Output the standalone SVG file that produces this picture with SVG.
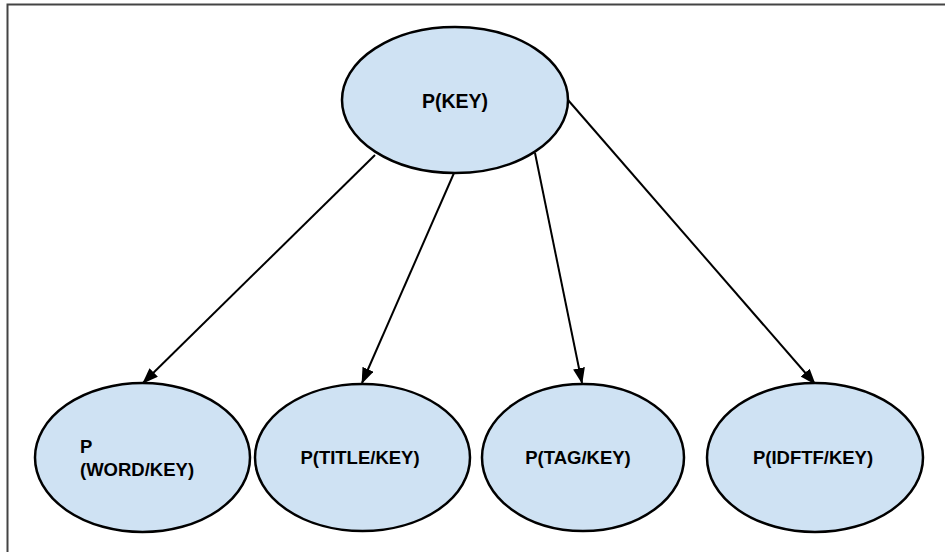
<svg xmlns="http://www.w3.org/2000/svg" width="945" height="552" viewBox="0 0 945 552">
<style>
.node ellipse{fill:#cfe2f3;stroke:#000;stroke-width:2.5}
.node text{font-family:"Liberation Sans",Arial,sans-serif;font-weight:bold;font-size:18.5px;fill:#000}
.edge{stroke:#000;stroke-width:2;fill:none;marker-end:url(#ah)}
</style>
<defs>
<marker id="ah" markerWidth="16" markerHeight="12" refX="15" refY="6" orient="auto" markerUnits="userSpaceOnUse">
<path d="M0,0 L16,6 L0,12 Z" fill="#000"/>
</marker>
</defs>
<rect width="945" height="552" fill="#fff"/>
<path d="M7.5,552 V4.5 H945" fill="none" stroke="#444" stroke-width="2"/>
<g id="connectors">
<line class="edge" x1="375" y1="155" x2="143" y2="383"/>
<line class="edge" x1="454" y1="173" x2="362" y2="383"/>
<line class="edge" x1="535" y1="153" x2="582" y2="383"/>
<line class="edge" x1="568" y1="100" x2="815" y2="384"/>
</g>
<g id="n-key" class="node">
<ellipse cx="455" cy="100" rx="113" ry="73"/>
<text x="455" y="108" text-anchor="middle" style="font-size:19.5px">P(KEY)</text>
</g>
<g id="n-word" class="node">
<ellipse cx="142.5" cy="457.5" rx="107.5" ry="74.5"/>
<text x="80" y="453">P</text>
<text x="80" y="476">(WORD/KEY)</text>
</g>
<g id="n-title" class="node">
<ellipse cx="362.5" cy="457.5" rx="107.5" ry="73.5"/>
<text x="360" y="464" text-anchor="middle">P(TITLE/KEY)</text>
</g>
<g id="n-tag" class="node">
<ellipse cx="583" cy="457.5" rx="101" ry="73.5"/>
<text x="578" y="464" text-anchor="middle">P(TAG/KEY)</text>
</g>
<g id="n-idftf" class="node">
<ellipse cx="815" cy="457.5" rx="108" ry="74.5"/>
<text x="813" y="464" text-anchor="middle">P(IDFTF/KEY)</text>
</g>
</svg>
